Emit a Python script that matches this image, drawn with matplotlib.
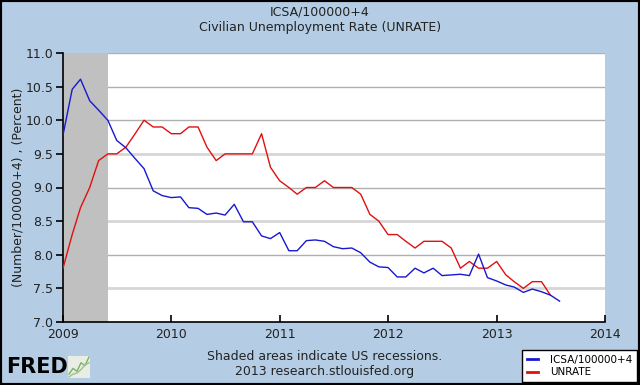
import matplotlib
matplotlib.use("Agg")
import matplotlib.pyplot as plt
import pandas as pd
from matplotlib.patches import Rectangle

# monthly values, Jan 2009 onward
icsa = [9.78, 10.46, 10.61, 10.29, 10.15, 10.00, 9.70, 9.59, 9.43, 9.28, 8.95, 8.88,
        8.85, 8.86, 8.70, 8.69, 8.60, 8.62, 8.59, 8.75, 8.49, 8.49, 8.28, 8.24,
        8.33, 8.06, 8.06, 8.21, 8.22, 8.20, 8.12, 8.09, 8.10, 8.03, 7.89, 7.82,
        7.81, 7.67, 7.67, 7.80, 7.73, 7.80, 7.69, 7.70, 7.71, 7.69, 8.01, 7.66,
        7.61, 7.55, 7.52, 7.44, 7.49, 7.45, 7.40, 7.31]
unrate = [7.8, 8.3, 8.7, 9.0, 9.4, 9.5, 9.5, 9.6, 9.8, 10.0, 9.9, 9.9,
          9.8, 9.8, 9.9, 9.9, 9.6, 9.4, 9.5, 9.5, 9.5, 9.5, 9.8, 9.3,
          9.1, 9.0, 8.9, 9.0, 9.0, 9.1, 9.0, 9.0, 9.0, 8.9, 8.6, 8.5,
          8.3, 8.3, 8.2, 8.1, 8.2, 8.2, 8.2, 8.1, 7.8, 7.9, 7.8, 7.8,
          7.9, 7.7, 7.6, 7.5, 7.6, 7.6, 7.4]
recession = ("2007-12-01", "2009-06-01")
year_ticks = ["2009", "2010", "2011", "2012", "2013", "2014"]
y_ticks = [7.0, 7.5, 8.0, 8.5, 9.0, 9.5, 10.0, 10.5, 11.0]

icsa_dates = pd.date_range("2009-01-01", periods=len(icsa), freq="MS")
unrate_dates = pd.date_range("2009-01-01", periods=len(unrate), freq="MS")

BG = "#B4CDE4"

fig = plt.figure(figsize=(6.4, 3.85), dpi=100, facecolor=BG)
ax = fig.add_axes([63 / 640, 1 - 322 / 385, 542 / 640, 269 / 385])
ax.set_facecolor("white")

ax.set_xlim(pd.Timestamp("2009-01-01"), pd.Timestamp("2014-01-01"))
ax.set_ylim(7.0, 11.0)

# recession shading
ax.axvspan(pd.Timestamp(recession[0]), pd.Timestamp(recession[1]), color="#C0C0C0", lw=0, zorder=1)

# gridlines, alternating style like FRED
for v in y_ticks[1:-1]:
    if v in (7.5, 8.5, 9.5):
        ax.axhline(v, color="#D6D6D6", lw=2.0, zorder=0.5)
    else:
        ax.axhline(v, color="#AFAFAF", lw=1.0, zorder=0.5)
ax.axhline(11.0, color="#B0B0B0", lw=1.0, zorder=0.5)

l_unrate, = ax.plot(unrate_dates, unrate, color="#E01010", lw=1.0, zorder=3)
l_icsa, = ax.plot(icsa_dates, icsa, color="#1818D0", lw=1.0, zorder=4)

for s in ("top", "right"):
    ax.spines[s].set_visible(False)
ax.spines["left"].set_linewidth(1.2)
ax.spines["bottom"].set_linewidth(1.2)

ax.set_yticks(y_ticks)
ax.set_yticklabels([f"{v:.1f}" for v in y_ticks], fontsize=9, color="#222222")
ax.tick_params(axis="y", direction="out", length=5, width=1.2, pad=2)

ax.set_xticks([pd.Timestamp(y + "-01-01") for y in year_ticks])
ax.set_xticklabels(year_ticks, fontsize=9, color="#222222")
ax.tick_params(axis="x", direction="in", length=5, width=1.2, pad=4)

ax.set_ylabel("(Number/100000+4) , (Percent)", fontsize=9, color="#222222", labelpad=1)

fig.text(0.5, 1 - 12 / 385, "ICSA/100000+4", ha="center", va="center", fontsize=9, color="#222222")
fig.text(0.5, 1 - 27 / 385, "Civilian Unemployment Rate (UNRATE)", ha="center", va="center",
         fontsize=9, color="#222222")

fig.text(325 / 640, 1 - 356 / 385, "Shaded areas indicate US recessions.", ha="center", va="center",
         fontsize=9, color="#222222")
fig.text(325 / 640, 1 - 371 / 385, "2013 research.stlouisfed.org", ha="center", va="center",
         fontsize=9, color="#222222")

# legend box
legend = fig.legend([l_icsa, l_unrate], ["ICSA/100000+4", "UNRATE"],
                    loc="lower right", bbox_to_anchor=(637 / 640, 3 / 385),
                    fontsize=7.5, frameon=True, fancybox=False, handlelength=1.0,
                    handletextpad=1.2, borderpad=0.45, borderaxespad=0.0,
                    labelspacing=0.25, framealpha=1.0)
legend.get_frame().set_edgecolor("black")
legend.get_frame().set_linewidth(1.0)
for line in legend.get_lines():
    line.set_linewidth(2.0)

# FRED logo
fig.text(6 / 640, 1 - 367 / 385, "FRED", ha="left", va="center", fontsize=15,
         fontweight="bold", color="black", family="DejaVu Sans")
logo = fig.add_axes([68 / 640, 1 - 378 / 385, 22 / 640, 22 / 385])
logo.set_facecolor("#E8EEE4")
logo.plot([0, 1, 2, 3, 4, 5], [1, 2, 1.5, 3, 2.5, 4], color="#7FAF6A", lw=1)
logo.plot([0, 1, 2, 3, 4, 5], [0.5, 1, 1.2, 1.8, 2.6, 3], color="#9FC08A", lw=1)
logo.set_xticks([])
logo.set_yticks([])
for s in logo.spines.values():
    s.set_visible(False)

# outer frame
fig.patches.append(Rectangle((0, 0), 1, 1, transform=fig.transFigure, fill=False,
                             edgecolor="black", lw=3))

fig.savefig("out.png", dpi=100, facecolor=BG)
